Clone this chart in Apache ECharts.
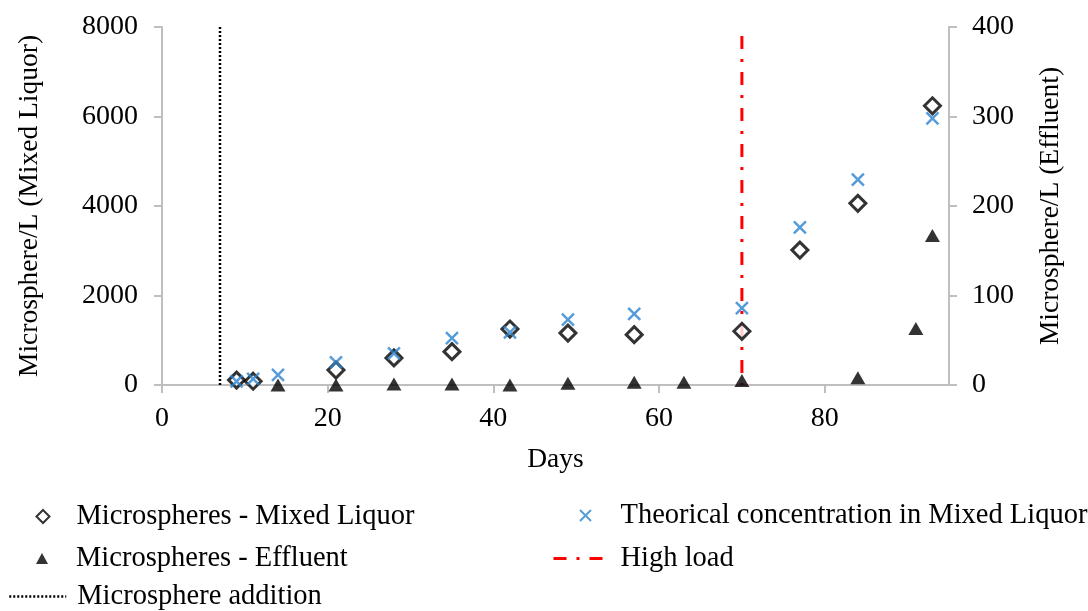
<!DOCTYPE html>
<html>
<head>
<meta charset="utf-8">
<script src="https://cdn.jsdelivr.net/npm/echarts@6/dist/echarts.min.js"></script>
<style>
html,body{margin:0;padding:0;background:#fff;}
#chart{width:1088px;height:611px;}
</style>
</head>
<body>
<div id="chart"></div>
<script>
// ---- data ----
var daysML = [9, 11, 21, 28, 35, 42, 49, 57, 70, 77, 84, 93];
var mixedLiquor = [110, 85, 335, 605, 745, 1250, 1160, 1125, 1200, 3015, 4060, 6240];

var daysTheo = [9, 11, 14, 21, 28, 35, 42, 49, 57, 70, 77, 84, 93];
var theoretical = [80, 135, 225, 505, 705, 1050, 1175, 1460, 1590, 1720, 3520, 4590, 5960];

var daysEff = [14, 21, 28, 35, 42, 49, 57, 63, 70, 84, 91, 93];
var effluent = [0, 0, 1, 1, 0, 2, 3, 3, 5, 8, 63, 167];

var additionDay = 7;
var additionRange = [0, 8000];
var highLoadDay = 70;
var highLoadRange = [7800, 0];

var xTicks = [0, 20, 40, 60, 80];

function pairs(xs, ys) { return xs.map(function (x, i) { return [x, ys[i]]; }); }

var FONT = '"Liberation Serif", "Times New Roman", serif';
var AX = '#bfbfbf';
var BLUE = '#2b83d0';

var chart = echarts.init(document.getElementById('chart'), null, {renderer: 'canvas'});

function legendAt(name, left, top, iw, ih, padLeft, lineW) {
  var l = {
    data: [name], left: left, top: top, orient: 'horizontal', padding: 0,
    itemWidth: iw, itemHeight: ih, selectedMode: false,
    textStyle: {fontFamily: FONT, fontSize: 28.5, color: '#000', padding: [0, 0, 0, padLeft]}
  };
  if (lineW) {
    l.itemStyle = {color: 'rgba(0,0,0,0)', borderColor: 'rgba(0,0,0,0)', borderWidth: 0};
    l.lineStyle = {width: lineW};
  }
  return l;
}

var option = {
  backgroundColor: '#fff',
  animation: false,
  textStyle: {fontFamily: FONT},
  grid: {left: 162, top: 27, width: 787, height: 358, containLabel: false},
  legend: [
    legendAt('Microspheres - Mixed Liquor', 35.5, 502, 13, 13, 22),
    legendAt('Theorical concentration in Mixed Liquor', 577.5, 501, 11, 11, 24.5),
    legendAt('Microspheres - Effluent', 36, 544, 12, 11, 23),
    legendAt('High load', 552, 544, 50, 14, 12, 3),
    legendAt('Microsphere addition', 8, 582, 57, 14, 6, 2.5)
  ],
  xAxis: {
    type: 'value', min: 0, max: 95, interval: 20,
    name: 'Days', nameLocation: 'middle', nameGap: 61,
    nameTextStyle: {fontFamily: FONT, fontSize: 27.5, color: '#000'},
    axisLine: {show: true, onZero: false, lineStyle: {color: AX, width: 2}},
    axisTick: {show: true, length: 8, inside: false, lineStyle: {color: AX, width: 2}, customValues: xTicks},
    axisLabel: {fontFamily: FONT, fontSize: 28, color: '#000', margin: 20, customValues: xTicks},
    splitLine: {show: false}
  },
  yAxis: [
    {
      type: 'value', min: 0, max: 8000, interval: 2000, position: 'left',
      name: 'Microsphere/L (Mixed Liquor)', nameLocation: 'middle', nameGap: 118,
      nameTextStyle: {fontFamily: FONT, fontSize: 27.5, color: '#000'},
      axisLine: {show: true, lineStyle: {color: AX, width: 2}},
      axisTick: {show: true, length: 8, lineStyle: {color: AX, width: 2}},
      axisLabel: {fontFamily: FONT, fontSize: 28, color: '#000', margin: 24,
        formatter: function (v) { return String(v); }},
      splitLine: {show: false}
    },
    {
      type: 'value', min: 0, max: 400, interval: 100, position: 'right',
      name: 'Microsphere/L (Effluent)', nameLocation: 'middle', nameGap: 88,
      nameRotate: 90,
      nameTextStyle: {fontFamily: FONT, fontSize: 27.5, color: '#000'},
      axisLine: {show: true, lineStyle: {color: AX, width: 2}},
      axisTick: {show: true, length: 8, lineStyle: {color: AX, width: 2}},
      axisLabel: {fontFamily: FONT, fontSize: 28, color: '#000', margin: 23,
        formatter: function (v) { return String(v); }},
      splitLine: {show: false}
    }
  ],
  series: [
    {
      name: 'Microsphere addition', type: 'line', yAxisIndex: 0,
      data: [[additionDay, additionRange[0]], [additionDay, additionRange[1]]],
      symbol: 'none', silent: true,
      lineStyle: {color: '#000', width: 2.5, type: [2, 2]},
      itemStyle: {color: '#000'}, z: 1
    },
    {
      name: 'High load', type: 'line', yAxisIndex: 0,
      data: [[highLoadDay, highLoadRange[0]], [highLoadDay, highLoadRange[1]]],
      symbol: 'none', silent: true,
      lineStyle: {color: '#ff0000', width: 3, type: [13, 10, 3, 10]},
      itemStyle: {color: '#ff0000'}, z: 1
    },
    {
      name: 'Microspheres - Mixed Liquor', type: 'scatter', yAxisIndex: 0,
      data: pairs(daysML, mixedLiquor),
      symbol: 'diamond', symbolSize: 16,
      itemStyle: {color: '#fff', borderColor: '#000', borderWidth: 3}, z: 3
    },
    {
      name: 'Theorical concentration in Mixed Liquor', type: 'scatter', yAxisIndex: 0,
      data: pairs(daysTheo, theoretical),
      symbol: 'path://M0,0L10,10M10,0L0,10', symbolSize: 12,
      itemStyle: {color: 'none', borderColor: BLUE, borderWidth: 2.5}, z: 4
    },
    {
      name: 'Microspheres - Effluent', type: 'scatter', yAxisIndex: 1,
      data: pairs(daysEff, effluent),
      symbol: 'triangle', symbolSize: [15, 13],
      itemStyle: {color: '#000'}, z: 5
    }
  ]
};
chart.setOption(option);
</script>
</body>
</html>
